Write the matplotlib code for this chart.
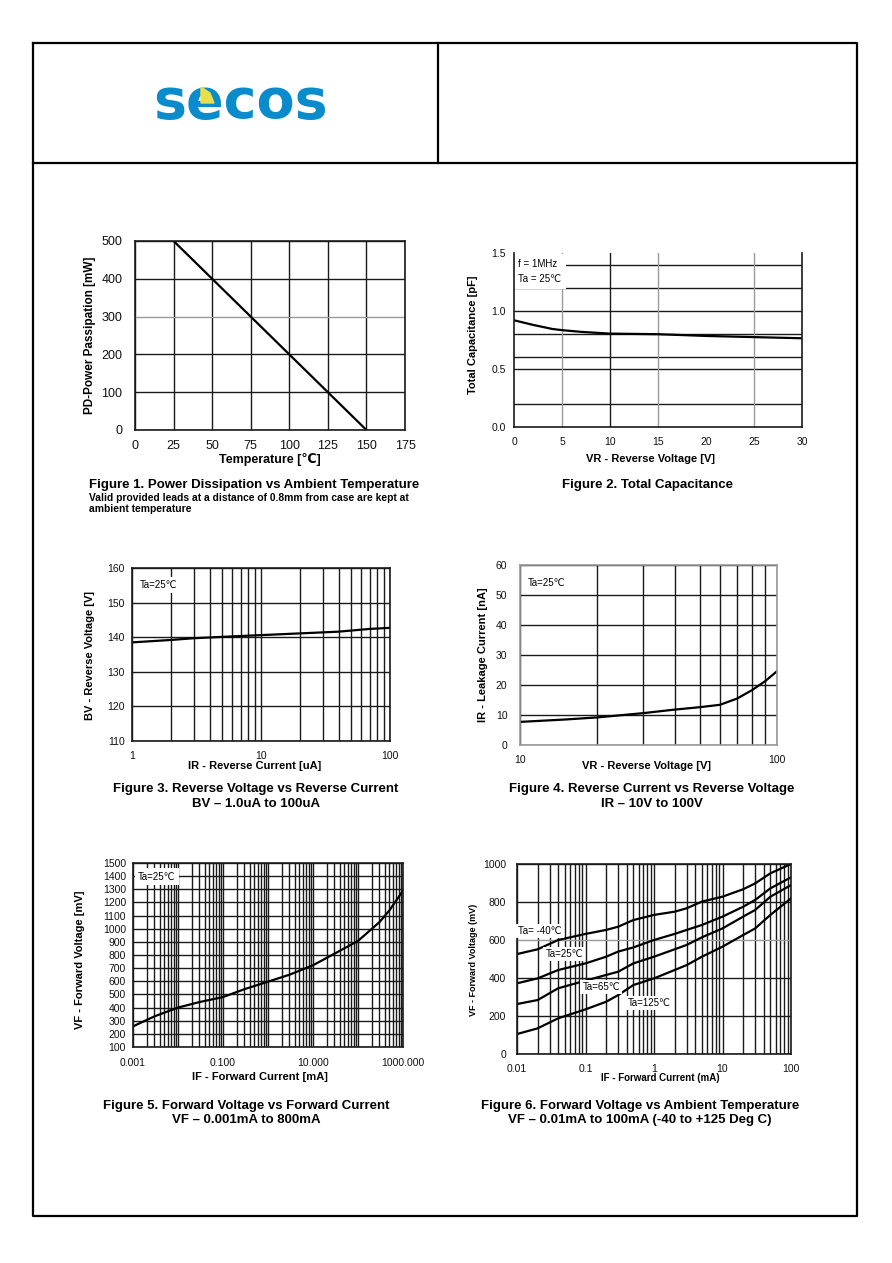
import matplotlib
matplotlib.use("Agg")
import matplotlib.pyplot as plt
from matplotlib.ticker import LogLocator, NullFormatter, FixedLocator, FixedFormatter
from matplotlib.patches import Polygon

plt.rcParams['font.family'] = ['Liberation Sans', 'DejaVu Sans']

W, H = 892, 1263
fig = plt.figure(figsize=(W / 100, H / 100), dpi=100)

# ---------------- data ----------------
# Fig 1
f1_temp = [25, 150]
f1_power = [500, 0]
# Fig 2
f2_vr = [0, 2, 4, 5, 7, 10, 15, 20, 25, 30]
f2_cap = [0.92, 0.88, 0.845, 0.835, 0.82, 0.805, 0.80, 0.785, 0.775, 0.765]
f2_hgrid = [0.2, 0.5, 0.6, 0.8, 1.0, 1.2, 1.4]
f2_vgrid = [5, 10, 15, 25]
# Fig 3
f3_ir = [1, 2, 3, 5, 10, 20, 40, 70, 100]
f3_bv = [138.5, 139.2, 139.7, 140.1, 140.6, 141.1, 141.6, 142.4, 142.7]
# Fig 4
f4_vr = [10, 15, 20, 30, 40, 50, 60, 70, 80, 90, 100]
f4_ir = [7.7, 8.5, 9.2, 10.6, 11.8, 12.6, 13.4, 15.5, 18.3, 21.3, 24.6]
# Fig 5
f5_if = [0.001, 0.003, 0.01, 0.03, 0.1, 0.3, 1, 3, 10, 30, 100, 300, 500, 1000]
f5_vf = [257, 333, 400, 442, 480, 540, 597, 650, 722, 810, 907, 1050, 1140, 1290]
# Fig 6
f6_if = [0.01, 0.02, 0.04, 0.1, 0.2, 0.3, 0.5, 1, 2, 3, 5, 10, 20, 30, 50, 100]
f6_vf_m40 = [526, 551, 600, 632, 653, 670, 705, 732, 749, 767, 802, 828, 867, 898, 951, 1000]
f6_vf_25 = [372, 398, 442, 477, 512, 539, 561, 600, 632, 653, 679, 723, 775, 811, 872, 930]
f6_vf_65 = [263, 284, 346, 386, 416, 433, 477, 512, 551, 574, 614, 661, 723, 758, 828, 889]
f6_vf_125 = [105, 135, 188, 235, 275, 310, 363, 398, 442, 468, 512, 565, 626, 661, 732, 819]
f6_labels = ["Ta= -40\u2103", "Ta=25\u2103", "Ta=65\u2103", "Ta=125\u2103"]
f6_label_x = [0.0105, 0.026, 0.09, 0.41]
f6_label_y = [648, 526, 353, 268]

DARK = '#1a1a1a'
GRAY = '#9a9a9a'
CAP = 9.5


def add_ax(l, t, r, b):
    return fig.add_axes([l / W, 1 - b / H, (r - l) / W, (b - t) / H])


def ftext(x, y, s, **kw):
    fig.text(x / W, 1 - y / H, s, **kw)


def style(ax, fs=7.5, padx=5, pady=5, spines=('left', 'bottom', 'right', 'top')):
    for k, sp in ax.spines.items():
        sp.set_visible(k in spines)
        sp.set_color(DARK)
        sp.set_linewidth(1.2)
    ax.tick_params(which='both', length=0, labelsize=fs, colors='#111111')
    ax.tick_params(axis='x', pad=padx)
    ax.tick_params(axis='y', pad=pady)
    ax.set_axisbelow(True)


# ---------------- page frame & header ----------------
frame = fig.add_axes([0, 0, 1, 1])
frame.set_xlim(0, W)
frame.set_ylim(H, 0)
frame.axis('off')
lw = 1.6
frame.plot([33, 857, 857, 33, 33], [43, 43, 1216, 1216, 43], color='black', lw=lw)
frame.plot([33, 857], [163, 163], color='black', lw=lw)
frame.plot([438, 438], [43, 163], color='black', lw=lw)
frame.text(240, 103, "secos", fontsize=40, fontweight='bold', color='#0a8bcb',
           ha='center', va='center', family='DejaVu Sans')
frame.add_patch(Polygon([[201, 87], [201, 103], [214, 103], [210, 93]], closed=True,
                        color='#e8e04a', zorder=5))

# ---------------- Figure 1 ----------------
ax1 = add_ax(135, 241, 405, 430)
ax1.plot(f1_temp, f1_power, color='black', lw=1.6)
ax1.set_xlim(0, 175)
ax1.set_ylim(0, 500)
ax1.set_xticks(range(0, 176, 25))
ax1.set_yticks(range(0, 501, 100))
ax1.grid(True, color=DARK, lw=1.0)
style(ax1, fs=9, padx=7, pady=9)
for gl, v in zip(ax1.get_ygridlines(), range(0, 501, 100)):
    if v == 300:
        gl.set_color(GRAY)
ftext(270, 459, "Temperature [\u2103]", ha='center', va='center', fontsize=9, fontweight='bold')
ftext(90, 335, "PD-Power Passipation [mW]", ha='center', va='center', fontsize=8.5,
      fontweight='bold', rotation=90)
ftext(89, 485, "Figure 1. Power Dissipation vs Ambient Temperature", ha='left', va='center',
      fontsize=CAP, fontweight='bold')
ftext(89, 498, "Valid provided leads at a distance of 0.8mm from case are kept at", ha='left',
      va='center', fontsize=7.4, fontweight='bold')
ftext(89, 509, "ambient temperature", ha='left', va='center', fontsize=7.4, fontweight='bold')

# ---------------- Figure 2 ----------------
ax2 = add_ax(514, 253, 802, 427)
ax2.plot(f2_vr, f2_cap, color='black', lw=1.6)
ax2.set_xlim(0, 30)
ax2.set_ylim(0, 1.5)
ax2.set_xticks(range(0, 31, 5))
ax2.set_yticks([0, 0.5, 1.0, 1.5])
ax2.set_yticklabels(['0.0', '0.5', '1.0', '1.5'])
for v in f2_hgrid:
    ax2.axhline(v, color=DARK, lw=1.0, zorder=0)
for v in f2_vgrid:
    ax2.axvline(v, color=GRAY if v in (5, 15, 25) else DARK, lw=1.0, zorder=0)
style(ax2, fs=7.5, padx=7, pady=6, spines=('left', 'bottom', 'right'))
ax2.text(0.45, 1.34, "f = 1MHz\nTa = 25\u2103", fontsize=7, va='center', ha='left',
         linespacing=1.7, bbox=dict(facecolor='white', edgecolor='none', pad=3.5), zorder=1.5)
ftext(651, 459, "VR - Reverse Voltage [V]", ha='center', va='center', fontsize=8, fontweight='bold')
ftext(473, 335, "Total Capacitance [pF]", ha='center', va='center', fontsize=8,
      fontweight='bold', rotation=90)
ftext(648, 485, "Figure 2. Total Capacitance", ha='center', va='center', fontsize=CAP,
      fontweight='bold')

# ---------------- Figure 3 ----------------
ax3 = add_ax(132, 568, 390, 741)
ax3.plot(f3_ir, f3_bv, color='black', lw=1.6)
ax3.set_xscale('log')
ax3.set_xlim(1, 100)
ax3.set_ylim(110, 160)
ax3.set_xticks([1, 10, 100])
ax3.set_xticklabels(['1', '10', '100'])
ax3.xaxis.set_minor_locator(LogLocator(base=10, subs=range(2, 10)))
ax3.xaxis.set_minor_formatter(NullFormatter())
ax3.set_yticks(range(110, 161, 10))
ax3.grid(True, which='both', color=DARK, lw=1.0)
style(ax3, fs=7.5, padx=7, pady=5)
for tick in ax3.xaxis.get_minor_ticks():
    if abs(tick.get_loc() - 40) < 1e-6:
        tick.gridline.set_color(GRAY)
ax3.text(1.15, 155, "Ta=25\u2103", fontsize=7, va='center', ha='left',
         bbox=dict(facecolor='white', edgecolor='none', pad=2), zorder=1.5)
ftext(255, 766, "IR - Reverse Current [uA]", ha='center', va='center', fontsize=8, fontweight='bold')
ftext(90, 655, "BV - Reverse Voltage [V]", ha='center', va='center', fontsize=8,
      fontweight='bold', rotation=90)
ftext(256, 789, "Figure 3. Reverse Voltage vs Reverse Current", ha='center', va='center',
      fontsize=CAP, fontweight='bold')
ftext(256, 804, "BV \u2013 1.0uA to 100uA", ha='center', va='center', fontsize=CAP,
      fontweight='bold')

# ---------------- Figure 4 ----------------
ax4 = add_ax(520, 565, 777, 745)
ax4.plot(f4_vr, f4_ir, color='black', lw=1.6)
ax4.set_xscale('log')
ax4.set_xlim(10, 100)
ax4.set_ylim(0, 60)
ax4.set_xticks([10, 100])
ax4.set_xticklabels(['10', '100'])
ax4.xaxis.set_minor_locator(LogLocator(base=10, subs=range(2, 10)))
ax4.xaxis.set_minor_formatter(NullFormatter())
ax4.set_yticks(range(0, 61, 10))
ax4.grid(True, which='both', color=DARK, lw=1.0)
style(ax4, fs=7.5, padx=7, pady=9)
for sp in ax4.spines.values():
    sp.set_color(GRAY)
for tick in ax4.xaxis.get_minor_ticks():
    if abs(tick.get_loc() - 40) < 1e-6:
        tick.gridline.set_color(GRAY)
ax4.text(10.7, 54, "Ta=25\u2103", fontsize=7, va='center', ha='left',
         bbox=dict(facecolor='white', edgecolor='none', pad=2), zorder=1.5)
ftext(647, 766, "VR - Reverse Voltage [V]", ha='center', va='center', fontsize=8, fontweight='bold')
ftext(483, 655, "IR - Leakage Current [nA]", ha='center', va='center', fontsize=8,
      fontweight='bold', rotation=90)
ftext(652, 789, "Figure 4. Reverse Current vs Reverse Voltage", ha='center', va='center',
      fontsize=CAP, fontweight='bold')
ftext(652, 804, "IR \u2013 10V to 100V", ha='center', va='center', fontsize=CAP, fontweight='bold')

# ---------------- Figure 5 ----------------
ax5 = add_ax(133, 863, 403, 1047)
ax5.plot(f5_if, f5_vf, color='black', lw=1.6)
ax5.set_xscale('log')
ax5.set_xlim(0.001, 1000)
ax5.set_ylim(100, 1500)
ax5.xaxis.set_major_locator(FixedLocator([0.001, 0.1, 10, 1000]))
ax5.xaxis.set_major_formatter(FixedFormatter(['0.001', '0.100', '10.000', '1000.000']))
ax5.xaxis.set_minor_locator(LogLocator(base=10, subs=range(1, 10), numticks=20))
ax5.xaxis.set_minor_formatter(NullFormatter())
ax5.set_yticks(range(100, 1501, 100))
ax5.grid(True, which='both', color=DARK, lw=1.0)
style(ax5, fs=7.5, padx=8, pady=5)
ax5.text(0.0013, 1395, "Ta=25\u2103", fontsize=7, va='center', ha='left',
         bbox=dict(facecolor='white', edgecolor='none', pad=2.5), zorder=1.5)
ftext(260, 1077, "IF - Forward Current [mA]", ha='center', va='center', fontsize=8,
      fontweight='bold')
ftext(80, 960, "VF - Forward Voltage [mV]", ha='center', va='center', fontsize=8,
      fontweight='bold', rotation=90)
ftext(246, 1106, "Figure 5. Forward Voltage vs Forward Current", ha='center', va='center',
      fontsize=CAP, fontweight='bold')
ftext(246, 1120, "VF \u2013 0.001mA to 800mA", ha='center', va='center', fontsize=CAP,
      fontweight='bold')

# ---------------- Figure 6 ----------------
ax6 = add_ax(517, 864, 791, 1054)
for ys in (f6_vf_m40, f6_vf_25, f6_vf_65, f6_vf_125):
    ax6.plot(f6_if, ys, color='black', lw=1.6, zorder=2)
ax6.set_xscale('log')
ax6.set_xlim(0.01, 100)
ax6.set_ylim(0, 1000)
ax6.set_xticks([0.01, 0.1, 1, 10, 100])
ax6.set_xticklabels(['0.01', '0.1', '1', '10', '100'])
ax6.xaxis.set_minor_locator(LogLocator(base=10, subs=range(2, 10), numticks=20))
ax6.xaxis.set_minor_formatter(NullFormatter())
ax6.set_yticks(range(0, 1001, 200))
ax6.grid(True, which='both', color=DARK, lw=1.0)
style(ax6, fs=7.5, padx=7, pady=8)
for gl, v in zip(ax6.get_ygridlines(), range(0, 1001, 200)):
    if v == 600:
        gl.set_color(GRAY)
for s, x, y in zip(f6_labels, f6_label_x, f6_label_y):
    ax6.text(x, y, s, fontsize=7, va='center', ha='left',
             bbox=dict(facecolor='white', edgecolor='none', pad=1.5), zorder=3)
ftext(660, 1078, "IF - Forward Current (mA)", ha='center', va='center', fontsize=7,
      fontweight='bold')
ftext(474, 960, "VF - Forward Voltage (mV)", ha='center', va='center', fontsize=6.5,
      fontweight='bold', rotation=90)
ftext(640, 1106, "Figure 6. Forward Voltage vs Ambient Temperature", ha='center', va='center',
      fontsize=CAP, fontweight='bold')
ftext(640, 1120, "VF \u2013 0.01mA to 100mA (-40 to +125 Deg C)", ha='center', va='center',
      fontsize=CAP, fontweight='bold')

fig.savefig("out.png", dpi=100)
